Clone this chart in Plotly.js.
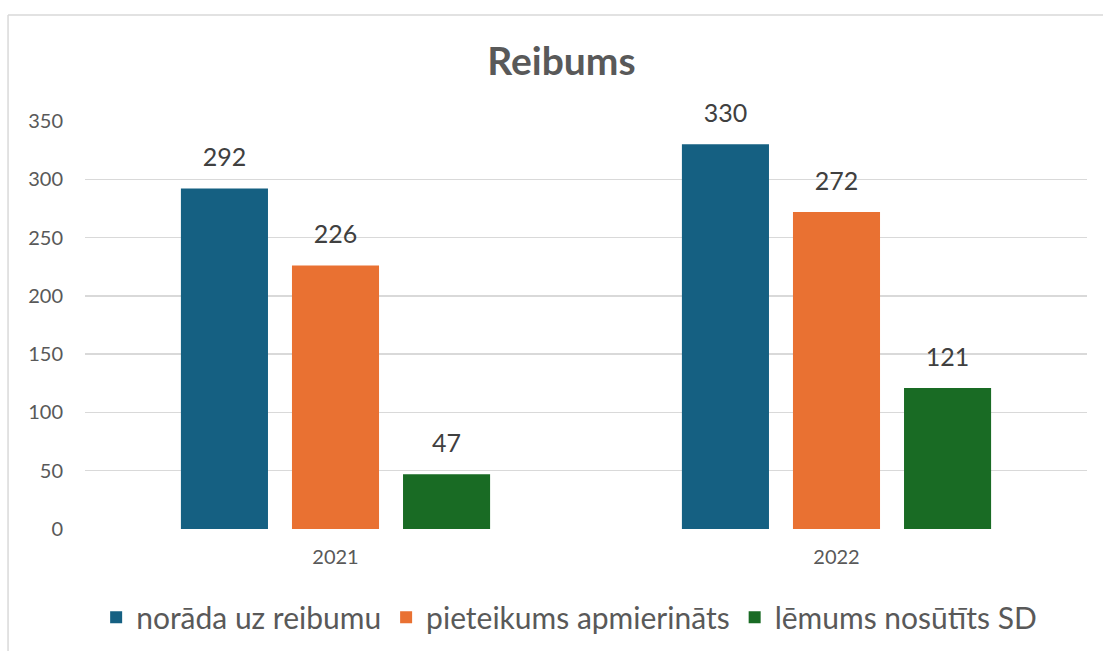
<!DOCTYPE html>
<html>
<head>
<meta charset="utf-8">
<script src="https://cdn.plot.ly/plotly-3.0.1.min.js"></script>
<style>
  html, body { margin: 0; padding: 0; background: #ffffff; }
  #chart { width: 1103px; height: 651px; }
</style>
</head>
<body>
<div id="chart"></div>
<script>
// ---- data ----
const categories = ["2021", "2022"];
const seriesNames = ["norāda uz reibumu", "pieteikums apmierināts", "lēmums nosūtīts SD"];
const seriesValues = [
  [292, 330],
  [226, 272],
  [47, 121]
];
const seriesColors = ["#156082", "#E97132", "#196B24"];
const yTickVals = [0, 50, 100, 150, 200, 250, 300, 350];
const chartTitle = "Reibums";

const FONT = "Lato, 'Liberation Sans', sans-serif";

const traces = [];
seriesNames.forEach((name, i) => {
  traces.push({
    type: "bar",
    name: name,
    x: categories,
    y: seriesValues[i],
    offsetgroup: String(i),
    marker: { color: seriesColors[i], line: { width: 0 } },
    hoverinfo: "skip"
  });
});
// data labels placed via grouped scatter text (aligned with bar groups)
seriesNames.forEach((name, i) => {
  traces.push({
    type: "scatter",
    mode: "text+markers",
    x: categories,
    y: seriesValues[i],
    offsetgroup: String(i),
    text: seriesValues[i].map(String),
    textposition: "top center",
    textfont: { family: FONT, size: 25, color: "#404040" },
    marker: { size: 24, color: "rgba(0,0,0,0)" },
    showlegend: false,
    hoverinfo: "skip",
    cliponaxis: false
  });
});

const layout = {
  width: 1103,
  height: 651,
  margin: { l: 85, r: 16, t: 121, b: 122 },
  paper_bgcolor: "#ffffff",
  plot_bgcolor: "#ffffff",
  font: { family: FONT, color: "#595959" },
  title: {
    text: "<b>" + chartTitle + "</b>",
    font: { family: FONT, size: 39, color: "#595959" },
    x: 0.509, xanchor: "center",
    y: 0.905, yanchor: "middle"
  },
  barmode: "group",
  scattermode: "group",
  bargap: 0.335,
  bargroupgap: 0.216,
  showlegend: true,
  legend: {
    orientation: "h",
    xref: "container", yref: "container",
    x: 0.516, xanchor: "center",
    y: 0.052, yanchor: "middle",
    font: { family: FONT, size: 30, color: "#595959" },
    itemwidth: 30,
    traceorder: "normal"
  },
  xaxis: {
    type: "category",
    showgrid: false,
    zeroline: false,
    showline: false,
    ticks: "",
    tickfont: { family: FONT, size: 20, color: "#595959" },
    ticklabelstandoff: 14,
    fixedrange: true
  },
  yaxis: {
    range: [0, 350],
    tickvals: yTickVals,
    showgrid: true,
    gridcolor: "#d9d9d9",
    gridwidth: 1.5,
    zeroline: false,
    showline: false,
    ticks: "",
    tickfont: { family: FONT, size: 20, color: "#595959" },
    ticklabelstandoff: 21,
    fixedrange: true
  },
  shapes: [
    { type: "line", xref: "paper", yref: "paper", x0: -0.0768, x1: 1.02, y0: 1.2598, y1: 1.2598,
      line: { color: "#d9d9d9", width: 1.5 } },
    { type: "line", xref: "paper", yref: "paper", x0: -0.0768, x1: -0.0768, y0: 1.2598, y1: -0.31,
      line: { color: "#d9d9d9", width: 1.5 } }
  ]
};

Plotly.newPlot("chart", traces, layout, { displayModeBar: false, staticPlot: true });
</script>
</body>
</html>
